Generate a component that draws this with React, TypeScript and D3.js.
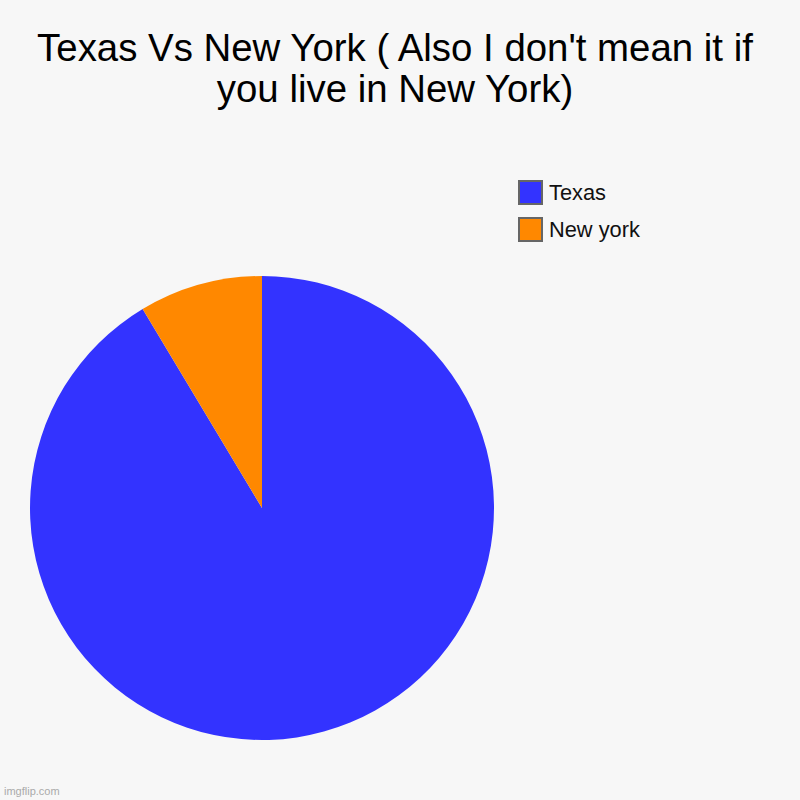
import React from 'react';
import * as d3 from 'd3';

const categories = ['Texas', 'New york'];
const values = [91.4, 8.6];
const colors = ['#3333ff', '#ff8800'];
const titleLines = ["Texas Vs New York ( Also I don't mean it if", 'you live in New York)'];

const W = 800;
const H = 800;

const App: React.FC = () => {
    const pie = d3.pie<number>().sort(null).value(d => d);
    const arcs = pie(values);
    const arc = d3.arc<d3.PieArcDatum<number>>().innerRadius(0).outerRadius(232);
    const legendY = d3.scaleBand<string>().domain(categories).range([180, 254]).paddingInner(0);

    return (
        <svg width={W} height={H} style={{ position: 'absolute', left: 0, top: 0, background: '#f7f7f7' }}
            fontFamily="'Liberation Sans', Arial, sans-serif">
            <rect width={W} height={H} fill="#f7f7f7" />
            {titleLines.map((t, i) => (
                <text key={i} x={395} y={61 + i * 41} textAnchor="middle" fontSize={38.4} fill="#000">{t}</text>
            ))}
            <g transform="translate(262,508)">
                {arcs.map((a, i) => (
                    <path key={i} d={arc(a) || ''} fill={colors[i]} />
                ))}
            </g>
            {categories.map((c, i) => (
                <g key={c} transform={`translate(519,${legendY(c)})`}>
                    <rect x={0} y={1} width={23} height={23} fill={colors[i]} stroke="#666" strokeWidth={2} />
                    <text x={30} y={20} fontSize={21.8} fill="#111">{c}</text>
                </g>
            ))}
            <text x={4} y={795} fontSize={11} fill="#aaa">imgflip.com</text>
        </svg>
    );
};

export default App;
